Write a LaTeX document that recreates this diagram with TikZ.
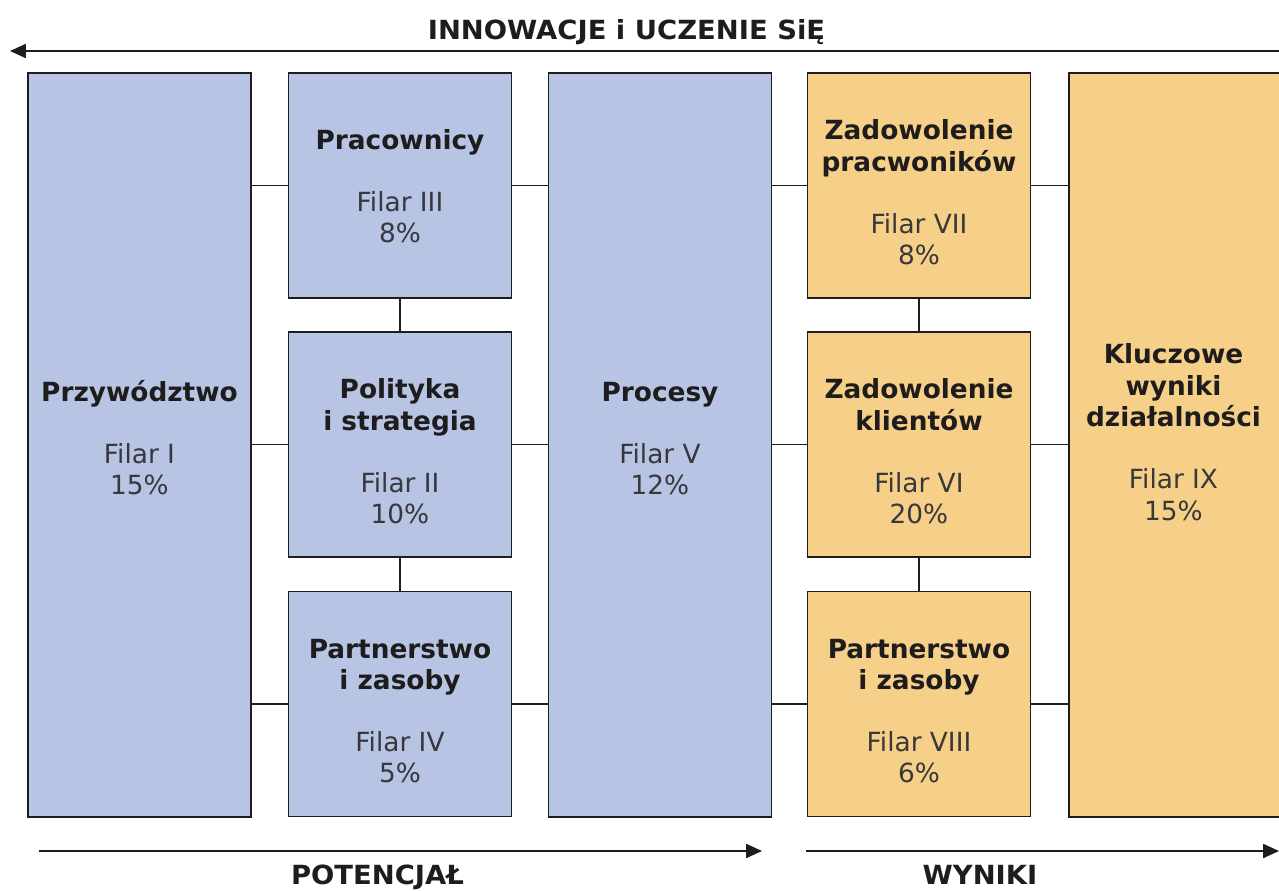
\documentclass[tikz,border=0pt]{standalone}
\usepackage{fontspec}
\setmainfont{DejaVu Sans}
\newfontfamily\labelfont[FakeStretch=1.04]{DejaVu Sans Bold}
\usetikzlibrary{arrows.meta}

\definecolor{pilarblue}{RGB}{184,196,228}
\definecolor{pilarorange}{RGB}{246,208,136}
\definecolor{pilartext}{RGB}{55,55,60}
\definecolor{pilarline}{RGB}{30,28,28}

\tikzset{
  pilar/.style={draw=pilarline, line width=0.85pt, inner sep=0pt},
  smallbox/.style={pilar, minimum width=4.46cm, minimum height=4.5cm},
  tallbox/.style={pilar, minimum width=4.46cm, minimum height=14.88cm},
  pilartxt/.style={align=center, inner sep=0pt, text=pilartext,
    font=\fontsize{15}{18}\selectfont},
  link/.style={draw=pilarline, line width=0.85pt},
  flow/.style={draw=pilarline, line width=0.85pt, -{Triangle[length=9pt,width=8pt]}},
  flowlabel/.style={anchor=base, inner sep=0pt, font=\labelfont\fontsize{15}{18}\selectfont, text=pilarline}
}
\newcommand{\pname}[1]{{\bfseries\color{pilarline}#1}}

\begin{document}
\begin{tikzpicture}[x=0.02cm, y=-0.02cm]
  \useasboundingbox (0,0) rectangle (1279,890);

  %%potencjal
  \node[tallbox, fill=pilarblue] (przyw) at (139.5,445) {};
  \node[smallbox, fill=pilarblue] (prac) at (400,185.5) {};
  \node[smallbox, fill=pilarblue] (pol) at (400,444.5) {};
  \node[smallbox, fill=pilarblue] (partl) at (400,704) {};
  \node[tallbox, fill=pilarblue] (proc) at (660,445) {};

  %%wyniki
  \node[smallbox, fill=pilarorange] (zadp) at (919,185.5) {};
  \node[smallbox, fill=pilarorange] (zadk) at (919,444.5) {};
  \node[smallbox, fill=pilarorange] (partr) at (919,704) {};
  \node[pilar, minimum width=4.3cm, minimum height=14.88cm, fill=pilarorange] (klucz) at (1176.5,445) {};

  %%teksty
  \node[pilartxt, shift={(0,-7)}] (przyw-t) at (przyw)
    {\pname{Przywództwo}\\[17pt]Filar I\\15\%};
  \node[pilartxt, shift={(0,1)}] (prac-t) at (prac)
    {\pname{Pracownicy}\\[17pt]Filar III\\8\%};
  \node[pilartxt, shift={(0,7)}] (pol-t) at (pol)
    {\pname{Polityka}\\\pname{i strategia}\\[17pt]Filar II\\10\%};
  \node[pilartxt, shift={(0,7)}] (partl-t) at (partl)
    {\pname{Partnerstwo}\\\pname{i zasoby}\\[17pt]Filar IV\\5\%};
  \node[pilartxt, shift={(0,-6)}] (proc-t) at (proc)
    {\pname{Procesy}\\[17pt]Filar V\\12\%};
  \node[pilartxt, shift={(0,7)}] (zadp-t) at (zadp)
    {\pname{Zadowolenie}\\\pname{pracwoników}\\[17pt]Filar VII\\8\%};
  \node[pilartxt, shift={(0,7)}] (zadk-t) at (zadk)
    {\pname{Zadowolenie}\\\pname{klientów}\\[17pt]Filar VI\\20\%};
  \node[pilartxt, shift={(0,7)}] (partr-t) at (partr)
    {\pname{Partnerstwo}\\\pname{i zasoby}\\[17pt]Filar VIII\\6\%};
  \node[pilartxt, shift={(-3,-13)}] (klucz-t) at (klucz)
    {\pname{Kluczowe}\\\pname{wyniki}\\\pname{działalności}\\[17pt]Filar IX\\15\%};

  %%polaczenia
  \foreach \a/\b in {prac/przyw, pol/przyw, partl/przyw}
    \draw[link] (\a.west) -- (\a.west -| \b.east);
  \foreach \a/\b in {prac/proc, pol/proc, partl/proc}
    \draw[link] (\a.east) -- (\a.east -| \b.west);
  \foreach \a/\b in {zadp/proc, zadk/proc, partr/proc}
    \draw[link] (\a.west) -- (\a.west -| \b.east);
  \foreach \a/\b in {zadp/klucz, zadk/klucz, partr/klucz}
    \draw[link] (\a.east) -- (\a.east -| \b.west);
  \draw[link] (prac.south) -- (pol.north);
  \draw[link] (pol.south) -- (partl.north);
  \draw[link] (zadp.south) -- (zadk.north);
  \draw[link] (zadk.south) -- (partr.north);

  %%strzalki
  \coordinate (topr) at (1279,51);
  \coordinate (topl) at (10,51);
  \coordinate (potl) at (39,851);
  \coordinate (potr) at (762,851);
  \coordinate (wynl) at (806,851);
  \coordinate (wynr) at (1279,851);
  \draw[flow] (topr) -- (topl);
  \draw[flow] (potl) -- (potr);
  \draw[flow] (wynl) -- (wynr);

  \node[flowlabel] (innow) at (626.5,39) {INNOWACJE i UCZENIE SiĘ};
  \node[flowlabel] (potenc) at (377.5,884) {POTENCJAŁ};
  \node[flowlabel] (wyn) at (980,884) {WYNIKI};
\end{tikzpicture}
\end{document}
